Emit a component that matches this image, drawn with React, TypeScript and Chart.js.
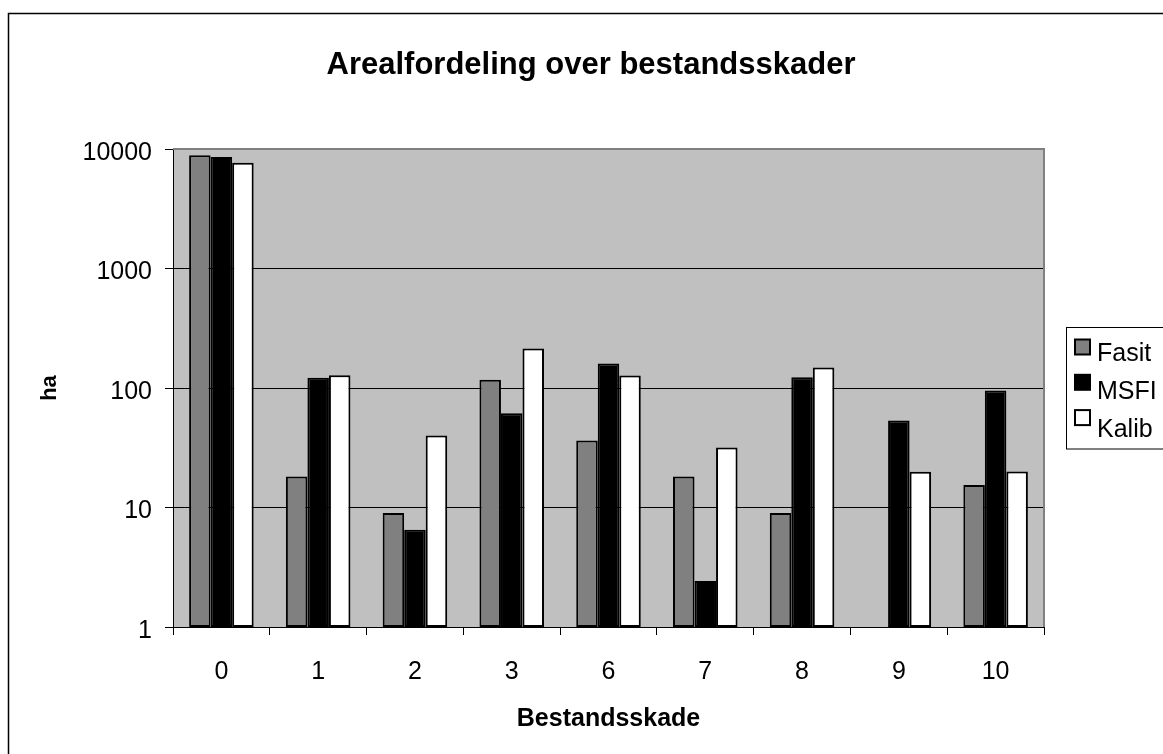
import React, { useEffect, useRef } from "react";
import { Chart, registerables } from "chart.js";

Chart.register(...registerables);

const categories = ["0", "1", "2", "3", "6", "7", "8", "9", "10"];
const fasit = [8850, 18.2, 9, 117, 36.3, 18.2, 9, null, 15.4];
const msfi = [8590, 122, 6.5, 61.5, 160, 2.43, 123, 53.4, 95.3];
const kalib = [7690, 128, 40, 214, 127, 31.7, 148.6, 19.9, 20];
const yTicks = [1, 10, 100, 1000, 10000];
const chartTitle = "Arealfordeling over bestandsskader";

const FONT = "'Liberation Sans', Arial, sans-serif";

const framePlugin = {
  id: "framePlugin",
  beforeDraw(chart: any) {
    const { ctx, chartArea } = chart;
    ctx.save();
    ctx.fillStyle = "#ffffff";
    ctx.fillRect(0, 0, chart.width, chart.height);
    ctx.strokeStyle = "#000000";
    ctx.lineWidth = 1.5;
    ctx.strokeRect(8.5, 13.5, 3000, 3000);
    ctx.fillStyle = "#c0c0c0";
    ctx.fillRect(chartArea.left, chartArea.top, chartArea.right - chartArea.left, chartArea.bottom - chartArea.top);
    // title
    ctx.fillStyle = "#000000";
    ctx.font = `bold 31px ${FONT}`;
    ctx.textAlign = "center";
    ctx.textBaseline = "alphabetic";
    ctx.fillText(chartTitle, 591, 73.5);
    ctx.restore();
  },
  beforeDatasetsDraw(chart: any) {
    const { ctx, chartArea } = chart;
    ctx.save();
    ctx.strokeStyle = "#808080";
    ctx.lineWidth = 2;
    ctx.beginPath();
    ctx.moveTo(chartArea.left, chartArea.top);
    ctx.lineTo(chartArea.right, chartArea.top);
    ctx.lineTo(chartArea.right, chartArea.bottom);
    ctx.stroke();
    ctx.restore();
  },
  afterDraw(chart: any) {
    const { ctx } = chart;
    ctx.save();
    ctx.strokeStyle = "#000000";
    ctx.lineWidth = 1;
    ctx.strokeRect(1066.5, 327.5, 200, 121.5);
    chart.data.datasets.forEach((ds: any, i: number) => {
      const sqY = 347 + i * 35.3;
      const txtY = 354 + i * 38.2;
      ctx.fillStyle = ds.backgroundColor;
      ctx.fillRect(1075, sqY - 7.5, 15, 15);
      ctx.strokeStyle = "#000000";
      ctx.lineWidth = 2;
      ctx.strokeRect(1075, sqY - 7.5, 15, 15);
      ctx.fillStyle = "#000000";
      ctx.font = `25px ${FONT}`;
      ctx.textBaseline = "middle";
      ctx.textAlign = "left";
      ctx.fillText(ds.label, 1097, txtY);
    });
    ctx.restore();
  },
};

export default function App() {
  const ref = useRef<HTMLCanvasElement | null>(null);

  useEffect(() => {
    if (!ref.current) return;
    const mk = (label: string, data: any[], color: string) => ({
      label,
      data,
      backgroundColor: color,
      borderColor: "#000000",
      borderWidth: 2,
      borderSkipped: false as any,
      categoryPercentage: 0.667,
      barPercentage: 1.0,
    });
    const chart = new Chart(ref.current, {
      type: "bar",
      data: {
        labels: categories,
        datasets: [
          mk("Fasit", fasit, "#808080"),
          mk("MSFI", msfi, "#000000"),
          mk("Kalib", kalib, "#ffffff"),
        ],
      },
      options: {
        animation: false,
        responsive: false,
        devicePixelRatio: 1,
        layout: { padding: { left: 0, right: 119, top: 149, bottom: 0 } },
        plugins: {
          legend: { display: false },
          tooltip: { enabled: false },
          title: { display: false },
        },
        scales: {
          x: {
            type: "category",
            offset: true,
            grid: {
              display: true,
              drawOnChartArea: false,
              drawTicks: true,
              tickLength: 8,
              color: "#000000",
              offset: true,
            },
            border: { display: true, color: "#000000", width: 1 },
            ticks: {
              color: "#000000",
              font: { family: FONT, size: 25 },
              padding: 22,
              maxRotation: 0,
              autoSkip: false,
            },
            title: {
              display: true,
              text: "Bestandsskade",
              color: "#000000",
              font: { family: FONT, size: 25, weight: "bold", lineHeight: 1.2 },
              padding: { top: 0, bottom: 20 },
            },
            afterFit: (scale: any) => {
              scale.height = 127;
            },
          },
          y: {
            type: "logarithmic",
            min: 1,
            max: 10000,
            grid: {
              display: true,
              drawOnChartArea: true,
              drawTicks: true,
              tickLength: 8,
              color: "#000000",
              lineWidth: 1,
            },
            border: { display: true, color: "#000000", width: 1 },
            afterBuildTicks: (scale: any) => {
              scale.ticks = yTicks.map((v) => ({ value: v }));
            },
            ticks: {
              color: "#000000",
              font: { family: FONT, size: 25 },
              padding: 13,
              labelOffset: 4,
              callback: (v: any) => String(v),
            },
            title: {
              display: true,
              text: "ha",
              color: "#000000",
              font: { family: FONT, size: 22, weight: "bold", lineHeight: 1.2 },
              padding: { top: 37, bottom: 0 },
            },
            afterFit: (scale: any) => {
              scale.width = 173;
            },
          },
        },
      },
      plugins: [framePlugin],
    } as any);
    return () => chart.destroy();
  }, []);

  return (
    <canvas
      ref={ref}
      width={1163}
      height={754}
      style={{ position: "fixed", left: 0, top: 0, width: 1163, height: 754, display: "block" }}
    />
  );
}
